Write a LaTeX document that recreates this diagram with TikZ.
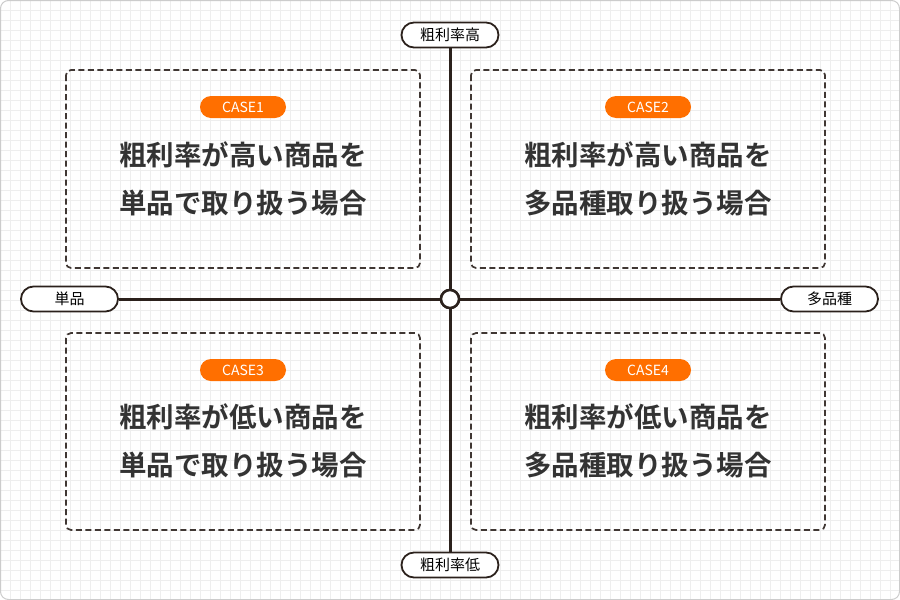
\documentclass[tikz,border=0pt]{standalone}
\usepackage{fontspec}
\newfontfamily\cjk{Noto Sans CJK JP}
\newfontfamily\cjkb{Noto Sans CJK JP Bold}
\definecolor{ink}{HTML}{2B211C}
\definecolor{txt}{HTML}{333333}
\definecolor{org}{HTML}{FF6F00}
\definecolor{gridc}{HTML}{EEEEEE}
\tikzset{
  axislab/.style={draw=ink,line width=1.8pt,fill=white,rounded corners=12.5pt,minimum width=97pt,minimum height=25pt,font=\cjk\fontsize{15}{15}\selectfont,text=black,inner sep=0pt},
  casebox/.style={draw=ink!90,line width=1.7pt,dash pattern=on 6pt off 3.5pt,rounded corners=5pt},
  badge/.style={fill=org,rounded corners=11pt,minimum width=86pt,minimum height=22pt,text=white,font=\cjk\fontsize{14}{14}\selectfont,inner sep=0pt},
  maintxt/.style={text=txt,font=\cjkb\fontsize{27.5}{48}\selectfont,align=center,inner sep=0pt},
}
\begin{document}
\begin{tikzpicture}[x=1pt,y=-1pt]
\useasboundingbox (0,0) rectangle (900,600);
\fill[white,rounded corners=8pt] (0.5,0.5) rectangle (899.5,599.5);
\begin{scope}
\clip[rounded corners=8pt] (0.5,0.5) rectangle (899.5,599.5);
\draw[gridc,line width=0.8pt,step=10pt] (0,0) grid (900,600);
\end{scope}
\draw[black!20,line width=1pt,rounded corners=8pt] (0.5,0.5) rectangle (899.5,599.5);
% boxes
\draw[casebox] (66,70) rectangle (420,268);
\draw[casebox] (471,70) rectangle (825,268);
\draw[casebox] (66,333) rectangle (420,530);
\draw[casebox] (471,333) rectangle (825,530);
\node[badge] (b1) at (243,107) {CASE1};
\node[badge] (b2) at (648,107) {CASE2};
\node[badge] (b3) at (243,370) {CASE3};
\node[badge] (b4) at (648,370) {CASE4};
\node[maintxt] (t1) at (243,179) {粗利率が高い商品を\\単品で取り扱う場合};
\node[maintxt] (t2) at (648,179) {粗利率が高い商品を\\多品種取り扱う場合};
\node[maintxt] (t3) at (243,441) {粗利率が低い商品を\\単品で取り扱う場合};
\node[maintxt] (t4) at (648,441) {粗利率が低い商品を\\多品種取り扱う場合};
% axes
\node[axislab] (top) at (450,35) {粗利率高};
\node[axislab] (bot) at (450,565) {粗利率低};
\node[axislab] (lft) at (69.5,299) {単品};
\node[axislab] (rgt) at (829.5,299) {多品種};
\node[circle,draw=ink,line width=2.5pt,fill=white,minimum size=18pt,inner sep=0pt] (c) at (450,299) {};
\draw[ink,line width=3pt] (top) -- (c) -- (bot);
\draw[ink,line width=3pt] (lft) -- (c) -- (rgt);
\node[circle,draw=ink,line width=2.5pt,fill=white,minimum size=18pt,inner sep=0pt] at (450,299) {};
\end{tikzpicture}
\end{document}
